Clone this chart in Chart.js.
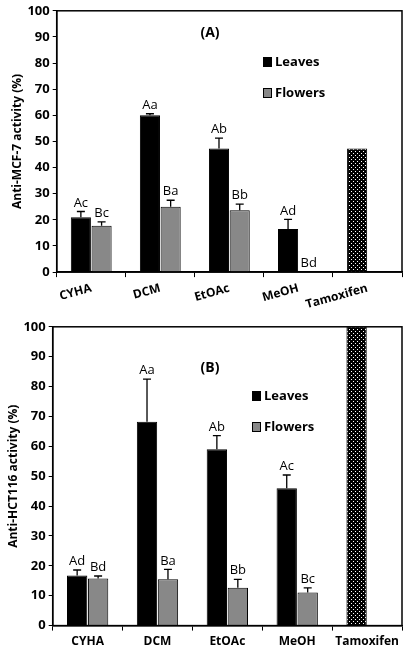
<!DOCTYPE html>
<html><head><meta charset="utf-8">
<script src="https://cdn.jsdelivr.net/npm/chart.js@4"></script>
<style>body{margin:0;background:#fff;overflow:hidden}canvas{display:block}</style>
</head><body>
<canvas id="a" width="407" height="316"></canvas>
<canvas id="b" width="407" height="337"></canvas>
<script>
const categories = ["CYHA","DCM","EtOAc","MeOH","Tamoxifen"];
const yTicks = [0,10,20,30,40,50,60,70,80,90,100];
const leavesA = [21, 60, 47.3, 16.5, 47.3];
const leavesErrA = [2.2, 0.6, 4, 3.7, 0];
const flowersA = [17.7, 25, 23.7, 0.3, null];
const flowersErrA = [1.5, 2.5, 2.3, 0, 0];
const leavesLblA = ["Ac","Aa","Ab","Ad",""];
const flowersLblA = ["Bc","Ba","Bb","Bd",""];
const leavesB = [16.8, 68.2, 59, 46, 100];
const leavesErrB = [1.8, 14.3, 4.6, 4.4, 0];
const flowersB = [15.8, 15.5, 12.7, 11.1, null];
const flowersErrB = [0.8, 3.3, 2.8, 1.5, 0];
const leavesLblB = ["Ad","Aa","Ab","Ac",""];
const flowersLblB = ["Bd","Ba","Bb","Bc",""];

function dots(){
  const c=document.createElement('canvas');c.width=4;c.height=4;
  const x=c.getContext('2d');x.fillStyle='#000';x.fillRect(0,0,4,4);
  x.fillStyle='#fff';x.fillRect(1,1,1,1);x.fillRect(3,3,1,1);
  return x.createPattern(c,'repeat');
}
const F="'Open Sans', sans-serif";

function make(id, L, LE, Fl, FE, LL, FL, title, ylabel, leg, pad){
  const errs=[LE,FE], lbls=[LL,FL];
  const plug={id:'ann'+id, afterDatasetsDraw(ch){
    const c=ch.ctx, ys=ch.scales.y, a=ch.chartArea;
    c.save();
    ch.data.datasets.forEach((ds,di)=>{
      ch.getDatasetMeta(di).data.forEach((bar,i)=>{
        const v=ds.data[i]; if(v==null) return;
        const e=errs[di][i];
        const top=ys.getPixelForValue(v+e);
        if(e>0){
          c.strokeStyle='#000';c.lineWidth=1.3;c.beginPath();
          c.moveTo(bar.x,bar.y);c.lineTo(bar.x,top);
          c.moveTo(bar.x-4,top);c.lineTo(bar.x+4,top);c.stroke();
        }
        if(lbls[di][i]){
          c.fillStyle='#000';c.font="13px "+F;c.textAlign='center';c.textBaseline='bottom';
          c.fillText(lbls[di][i],bar.x,top-2);
        }
      });
    });
    c.strokeStyle='#000';c.lineWidth=1.5;c.strokeRect(a.left,a.top,a.right-a.left,a.bottom-a.top);
    c.font="bold 14px "+F;c.textAlign='center';c.textBaseline='middle';c.fillStyle='#000';
    c.fillText(title,210,leg.t);
    c.font="bold 13px "+F;c.textAlign='left';
    c.fillStyle='#000';c.fillRect(leg.x,leg.y-5,9,10);
    c.fillText('Leaves',leg.x+12,leg.y);
    c.fillStyle='#888';c.fillRect(leg.x,leg.y+26,9,10);c.strokeStyle='#000';c.lineWidth=1;c.strokeRect(leg.x+0.5,leg.y+26.5,8,9);
    c.fillStyle='#000';c.fillText('Flowers',leg.x+12,leg.y+31);
    c.restore();
  }};
  new Chart(document.getElementById(id),{
    type:'bar',
    data:{labels:categories,datasets:[
      {data:L,backgroundColor:L.map((v,i)=>i===4?dots():'#000'),borderColor:'#000',borderWidth:1},
      {data:Fl,backgroundColor:'#888',borderColor:'#000',borderWidth:1}
    ]},
    options:{responsive:false,animation:false,
      layout:{padding:pad},
      datasets:{bar:{categoryPercentage:0.6,barPercentage:0.97}},
      plugins:{legend:{display:false},tooltip:{enabled:false}},
      scales:{
        x:{grid:{display:true,drawOnChartArea:false,offset:true,tickLength:5,color:'#000'},border:{color:'#000',width:1.5},
           ticks:{color:'#000',font:{family:F,weight:'bold',size:12},padding:4}},
        y:{min:0,max:100,afterBuildTicks(s){s.ticks=yTicks.map(v=>({value:v}));},
           grid:{display:true,drawOnChartArea:false,tickLength:4,color:'#000'},border:{color:'#000',width:1.5},
           ticks:{color:'#000',font:{family:F,weight:'bold',size:13},padding:3},
           title:{display:true,text:ylabel,color:'#000',font:{family:F,weight:'bold',size:12},padding:0}}
      }}
    ,plugins:[plug]});
}
make('a',leavesA,leavesErrA,flowersA,flowersErrA,leavesLblA,flowersLblA,'(A)','Anti-MCF-7 activity (%)',{x:263,y:62,t:33},{top:0,right:5,left:10,bottom:0});
make('b',leavesB,leavesErrB,flowersB,flowersErrB,leavesLblB,flowersLblB,'(B)','Anti-HCT116 activity (%)',{x:252,y:80,t:52},{top:3,right:5,left:6,bottom:0});
</script>
</body></html>
